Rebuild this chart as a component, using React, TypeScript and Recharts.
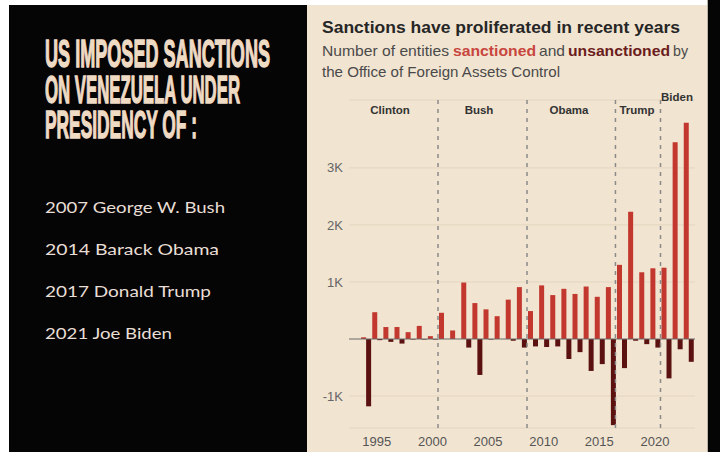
import React from 'react';
import { BarChart, Bar, XAxis, YAxis, CartesianGrid, ReferenceLine } from 'recharts';

// fiscal years shown on the chart
const years = [
  1994, 1995, 1996, 1997, 1998, 1999, 2000, 2001, 2002, 2003,
  2004, 2005, 2006, 2007, 2008, 2009, 2010, 2011, 2012, 2013,
  2014, 2015, 2016, 2017, 2018, 2019, 2020, 2021, 2022, 2023,
];

// entities added to the list
const sanctioned = [
  30, 470, 210, 210, 120, 230, 50, 460, 150, 990,
  630, 520, 400, 690, 910, 490, 940, 770, 880, 790,
  920, 740, 910, 1300, 2230, 1170, 1240, 1250, 3450, 3790,
];

// entities removed from the list (drawn below zero)
const unsanctioned = [
  -1180, -20, -50, -80, -10, -10, -10, 0, 0, -150,
  -630, -10, 0, -30, -150, -130, -140, -130, -350, -230,
  -560, -440, -1510, -510, -30, -90, -150, -690, -180, -400,
];

const yearTicks = [1995, 2000, 2005, 2010, 2015, 2020];
const valueTicks = [-1000, 1000, 2000, 3000];

// where one presidency hands over to the next
const termBreaks = [2000.5, 2008.5, 2016.45, 2020.5];

const presidents = [
  { name: 'Clinton', x: 390, y: 114 },
  { name: 'Bush', x: 479, y: 114 },
  { name: 'Obama', x: 569, y: 114 },
  { name: 'Trump', x: 637, y: 114 },
  { name: 'Biden', x: 677, y: 101 },
];

const headline = ['US IMPOSED SANCTIONS', 'ON VENEZUELA UNDER', 'PRESIDENCY OF :'];
const headlineWidths = [225, 195, 152];
const timeline = ['2007 George W. Bush', '2014 Barack Obama', '2017 Donald Trump', '2021 Joe Biden'];
const timelineWidths = [180, 174, 166, 127];

// subtitle, first line, split so each piece gets its own colour
const subtitleParts = [
  { text: 'Number of entities', x: 322, w: 127, fill: '#4a4a4a', bold: false },
  { text: 'sanctioned', x: 453, w: 83, fill: '#c8463d', bold: true },
  { text: 'and', x: 539, w: 26, fill: '#4a4a4a', bold: false },
  { text: 'unsanctioned', x: 568, w: 102, fill: '#6b1c1c', bold: true },
  { text: 'by', x: 673, w: 15, fill: '#4a4a4a', bold: false },
];

const rows = years.map((year, i) => ({
  year,
  sanctioned: sanctioned[i],
  unsanctioned: unsanctioned[i],
}));

const BEIGE = '#f1e4d1';
const RED = '#c2372e';
const DARK = '#5c1111';
const SANS = 'Liberation Sans, Arial, sans-serif';

const App: React.FC = () => {
  return (
    <div style={{ position: 'fixed', left: 0, top: 0, width: 720, height: 452, background: '#fff', overflow: 'hidden' }}>
      <div style={{ position: 'absolute', left: 9, top: 5, width: 298, height: 447, background: '#050505' }} />
      <div style={{ position: 'absolute', left: 307, top: 5, width: 400, height: 447, background: BEIGE }} />
      <div style={{ position: 'absolute', left: 707, top: 0, width: 1, height: 452, background: '#b9b2a6' }} />
      <div style={{ position: 'absolute', left: 708, top: 0, width: 12, height: 452, background: '#050505' }} />

      <div style={{ position: 'absolute', left: 307, top: 6 }}>
        <BarChart
          width={400}
          height={446}
          data={rows}
          margin={{ top: 94, right: 12, bottom: 0, left: 0 }}
          barSize={5}
          barGap={0}
        >
          <CartesianGrid vertical={false} stroke="#e4d6c0" />
          <XAxis
            dataKey="year"
            type="number"
            domain={[1992.5, 2023.6]}
            allowDataOverflow
            ticks={yearTicks}
            axisLine={false}
            tickLine={false}
            tickSize={0}
            tickMargin={9}
            height={24}
            tick={{ fill: '#555', fontSize: 13, fontFamily: SANS }}
          />
          <YAxis
            type="number"
            domain={[-1560, 4190]}
            allowDataOverflow
            ticks={valueTicks}
            tickFormatter={(v: number) => `${v / 1000}K`}
            axisLine={false}
            tickLine={false}
            tickSize={0}
            tickMargin={6}
            width={42}
            tick={{ fill: '#666', fontSize: 13, fontFamily: SANS }}
          />
          <Bar dataKey="sanctioned" fill={RED} isAnimationActive={false} />
          <Bar dataKey="unsanctioned" fill={DARK} isAnimationActive={false} />
          <ReferenceLine y={0} stroke="#6a6a6a" strokeWidth={1} />
          {termBreaks.map((x) => (
            <ReferenceLine key={x} x={x} stroke="#8a8a8a" strokeWidth={1.5} strokeDasharray="4 5" />
          ))}
        </BarChart>
      </div>

      <svg width={720} height={452} style={{ position: 'absolute', left: 0, top: 0, pointerEvents: 'none' }}>
        {headline.map((line, i) => (
          <text
            key={line}
            x={45}
            y={67 + i * 35.5}
            fontSize={38}
            fontWeight={700}
            fontFamily={SANS}
            fill="#efdac4"
            stroke="#efdac4"
            strokeWidth={1.4}
            textLength={headlineWidths[i]}
            lengthAdjust="spacingAndGlyphs"
          >
            {line}
          </text>
        ))}
        {timeline.map((line, i) => (
          <text
            key={line}
            x={45}
            y={213 + i * 42}
            fontSize={16}
            fontFamily="Lato, 'Noto Sans', sans-serif"
            fill="#e9ded5"
            textLength={timelineWidths[i]}
            lengthAdjust="spacingAndGlyphs"
          >
            {line}
          </text>
        ))}

        <text
          x={322}
          y={33}
          fontSize={16.5}
          fontWeight={700}
          fontFamily={SANS}
          fill="#262626"
          textLength={358}
          lengthAdjust="spacingAndGlyphs"
        >
          Sanctions have proliferated in recent years
        </text>
        {subtitleParts.map((p) => (
          <text
            key={p.text}
            x={p.x}
            y={56}
            fontSize={15}
            fontWeight={p.bold ? 700 : 400}
            fontFamily={SANS}
            fill={p.fill}
            textLength={p.w}
            lengthAdjust="spacingAndGlyphs"
          >
            {p.text}
          </text>
        ))}
        <text
          x={322}
          y={77}
          fontSize={15}
          fontFamily={SANS}
          fill="#4a4a4a"
          textLength={238}
          lengthAdjust="spacingAndGlyphs"
        >
          the Office of Foreign Assets Control
        </text>

        {presidents.map((p) => (
          <text
            key={p.name}
            x={p.x}
            y={p.y}
            textAnchor="middle"
            fontSize={11.5}
            fontWeight={700}
            fontFamily={SANS}
            fill="#333"
          >
            {p.name}
          </text>
        ))}
      </svg>
    </div>
  );
};

export default App;
